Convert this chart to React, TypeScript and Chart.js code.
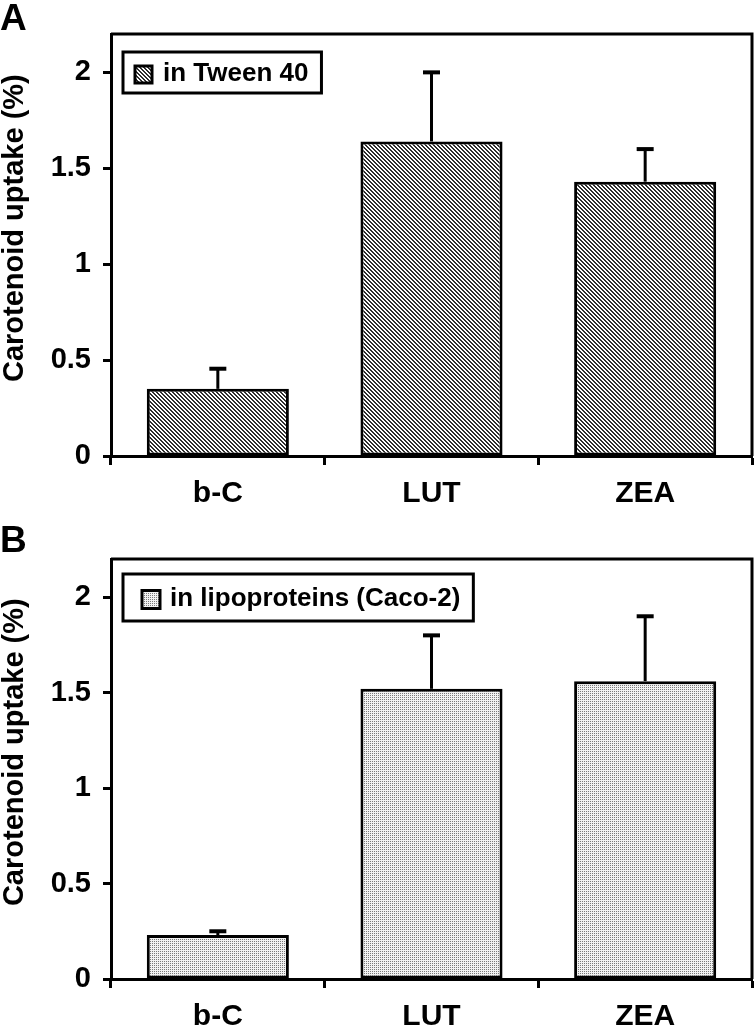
import React, { useEffect, useRef } from "react";
import { Chart, registerables } from "chart.js";

Chart.register(...registerables);

const categories = ["b-C", "LUT", "ZEA"];
const tweenValues = [0.35, 1.64, 1.43];
const tweenErrors = [0.105, 0.36, 0.17];
const lipoValues = [0.23, 1.52, 1.56];
const lipoErrors = [0.02, 0.28, 0.34];
const yTickValues = [0, 0.5, 1, 1.5, 2];
const yMax = 2.2;
const yTitle = "Carotenoid uptake (%)";
const tweenLabel = "in Tween 40";
const lipoLabel = "in lipoproteins (Caco-2)";

const FONT = '"Liberation Sans", Arial, Helvetica, sans-serif';

function makeHatch(): CanvasPattern | string {
  const c = document.createElement("canvas");
  c.width = 4;
  c.height = 4;
  const g = c.getContext("2d");
  if (!g) return "#999";
  g.fillStyle = "#ffffff";
  g.fillRect(0, 0, 4, 4);
  g.fillStyle = "#2e2e2e";
  for (let i = 0; i < 4; i++) {
    g.fillRect(i, i, 1, 1);
    g.fillRect((i + 1) % 4, i, 1, 1);
  }
  return g.createPattern(c, "repeat") || "#999";
}

function makeDots(): CanvasPattern | string {
  const c = document.createElement("canvas");
  c.width = 2;
  c.height = 2;
  const g = c.getContext("2d");
  if (!g) return "#ddd";
  g.fillStyle = "#f2f2f2";
  g.fillRect(0, 0, 2, 2);
  g.fillStyle = "#7a7a7a";
  g.fillRect(0, 0, 1, 1);
  return g.createPattern(c, "repeat") || "#ddd";
}

const errorBarPlugin = {
  id: "errBars",
  afterDatasetsDraw(chart: any, _args: any, opts: any) {
    const errs: number[] = opts.errors || [];
    const meta = chart.getDatasetMeta(0);
    const ys = chart.scales.y;
    const ctx = chart.ctx;
    const vals = chart.data.datasets[0].data as number[];
    ctx.save();
    ctx.strokeStyle = "#000";
    meta.data.forEach((bar: any, i: number) => {
      const top = ys.getPixelForValue(vals[i] + errs[i]);
      const base = ys.getPixelForValue(vals[i]);
      ctx.lineWidth = 3;
      ctx.beginPath();
      ctx.moveTo(bar.x, base);
      ctx.lineTo(bar.x, top);
      ctx.stroke();
      ctx.lineWidth = 4;
      ctx.beginPath();
      ctx.moveTo(bar.x - 8.5, top);
      ctx.lineTo(bar.x + 8.5, top);
      ctx.stroke();
    });
    ctx.restore();
  },
};

const legendBoxPlugin = {
  id: "boxLegend",
  afterDraw(chart: any, _args: any, opts: any) {
    const ctx = chart.ctx;
    const ca = chart.chartArea;
    const x = ca.left + 12;
    const y = ca.top + opts.offsetY;
    const h = opts.height;
    const s = opts.swatch;
    ctx.save();
    ctx.font = `bold 26px ${FONT}`;
    const tw = ctx.measureText(opts.text).width;
    const w = opts.textX + tw + 13;
    ctx.fillStyle = "#fff";
    ctx.fillRect(x, y, w, h);
    ctx.lineWidth = 3;
    ctx.strokeStyle = "#000";
    ctx.strokeRect(x, y, w, h);
    const sy = y + h / 2 - s / 2 + 2;
    ctx.fillStyle = opts.fill;
    ctx.fillRect(x + opts.swatchX, sy, s, s);
    ctx.lineWidth = 3;
    ctx.strokeRect(x + opts.swatchX, sy, s, s);
    ctx.fillStyle = "#000";
    ctx.textBaseline = "middle";
    ctx.textAlign = "left";
    ctx.fillText(opts.text, x + opts.textX, y + h / 2 + 1);
    ctx.restore();
  },
};

const decoPlugin = {
  id: "deco",
  afterDraw(chart: any, _args: any, opts: any) {
    const ctx = chart.ctx;
    const ca = chart.chartArea;
    ctx.save();
    ctx.strokeStyle = "#000";
    ctx.lineWidth = 3;
    ctx.beginPath();
    ctx.moveTo(ca.left, ca.top);
    ctx.lineTo(ca.right, ca.top);
    ctx.lineTo(ca.right, ca.bottom);
    ctx.stroke();
    ctx.fillStyle = "#000";
    ctx.font = `bold 29px ${FONT}`;
    ctx.textAlign = "center";
    ctx.textBaseline = "middle";
    ctx.translate(15, ca.top + (ca.bottom - ca.top) * 0.46);
    ctx.rotate(-Math.PI / 2);
    ctx.fillText(yTitle, 0, 0);
    ctx.restore();
    ctx.save();
    ctx.fillStyle = "#000";
    ctx.font = `bold 37px ${FONT}`;
    ctx.textAlign = "left";
    ctx.textBaseline = "alphabetic";
    ctx.fillText(opts.letter, 0, opts.letterY);
    ctx.restore();
  },
};

type PanelProps = {
  letter: string;
  letterY: number;
  label: string;
  values: number[];
  errors: number[];
  kind: "hatch" | "dots";
  height: number;
  padTop: number;
  axisHeight: number;
  legendOffset: number;
  legendHeight: number;
  swatchX: number;
  swatch: number;
  textX: number;
};

function Panel(p: PanelProps) {
  const ref = useRef<HTMLCanvasElement>(null);
  useEffect(() => {
    const canvas = ref.current;
    if (!canvas) return;
    const fill = p.kind === "hatch" ? makeHatch() : makeDots();
    const xFont = { family: FONT, size: 30, weight: "bold" as const };
    const yFont = { family: FONT, size: 29, weight: "bold" as const };
    const chart = new Chart(canvas, {
      type: "bar",
      data: {
        labels: categories,
        datasets: [
          {
            label: p.label,
            data: p.values,
            backgroundColor: fill as any,
            borderColor: "#000",
            borderWidth: 3,
            borderSkipped: false,
            barPercentage: 0.665,
            categoryPercentage: 1,
          },
        ],
      },
      options: {
        responsive: false,
        animation: false,
        events: [],
        layout: { padding: { top: p.padTop, right: 3, left: 0, bottom: 0 } },
        plugins: {
          legend: { display: false },
          tooltip: { enabled: false },
          title: { display: false },
          errBars: { errors: p.errors },
          boxLegend: {
            text: p.label,
            fill,
            offsetY: p.legendOffset,
            height: p.legendHeight,
            swatchX: p.swatchX,
            swatch: p.swatch,
            textX: p.textX,
          },
          deco: { letter: p.letter, letterY: p.letterY },
        } as any,
        scales: {
          x: {
            type: "category",
            offset: true,
            grid: {
              offset: true,
              drawOnChartArea: false,
              drawTicks: true,
              tickLength: 9,
              tickWidth: 3,
              tickColor: "#000",
            },
            border: { display: true, color: "#000", width: 3 },
            ticks: {
              color: "#000",
              font: xFont,
              padding: 11,
              maxRotation: 0,
            },
            afterFit: (s: any) => {
              s.height = p.axisHeight;
            },
          },
          y: {
            min: 0,
            max: yMax,
            afterBuildTicks: (s: any) => {
              s.ticks = yTickValues.map((v) => ({ value: v }));
            },
            grid: {
              drawOnChartArea: false,
              drawTicks: true,
              tickLength: 8,
              tickWidth: 3,
              tickColor: "#000",
            },
            border: { display: true, color: "#000", width: 3 },
            ticks: {
              color: "#000",
              font: yFont,
              padding: 12,
              callback: (v: any) => String(v),
            },
            afterFit: (s: any) => {
              s.width = 111;
            },
          },
        },
      },
      plugins: [errorBarPlugin, legendBoxPlugin, decoPlugin],
    });
    return () => chart.destroy();
  }, []);
  return (
    <canvas
      ref={ref}
      width={755}
      height={p.height}
      style={{ display: "block", width: 755, height: p.height }}
    />
  );
}

export default function App() {
  return (
    <div
      style={{
        position: "absolute",
        left: 0,
        top: 0,
        width: 755,
        height: 1027,
        background: "#fff",
      }}
    >
      <Panel
        letter="A"
        letterY={30}
        label={tweenLabel}
        values={tweenValues}
        errors={tweenErrors}
        kind="hatch"
        height={505}
        padTop={34}
        axisHeight={49}
        legendOffset={18}
        legendHeight={41}
        swatchX={12}
        swatch={17}
        textX={40}
      />
      <Panel
        letter="B"
        letterY={47}
        label={lipoLabel}
        values={lipoValues}
        errors={lipoErrors}
        kind="dots"
        height={522}
        padTop={54}
        axisHeight={48}
        legendOffset={15}
        legendHeight={47}
        swatchX={19}
        swatch={18}
        textX={47}
      />
    </div>
  );
}
